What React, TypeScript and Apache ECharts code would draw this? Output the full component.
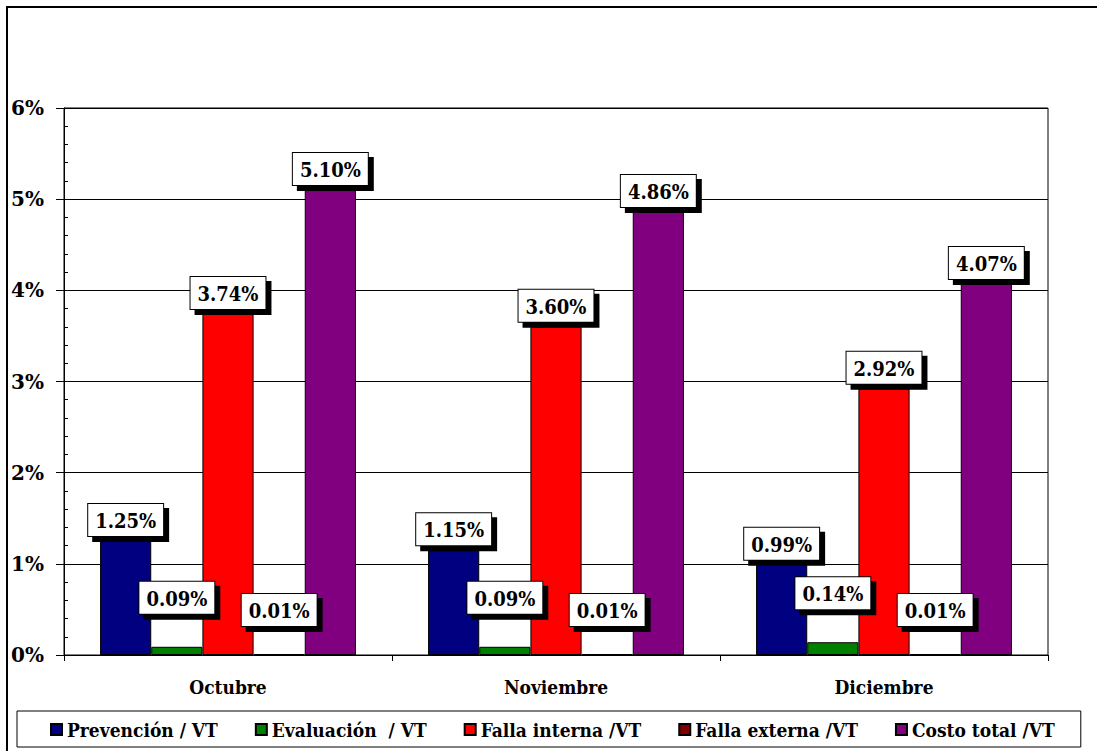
import React, { useEffect, useRef } from "react";
import * as echarts from "echarts";

const categories = ["Octubre", "Noviembre", "Diciembre"];
const seriesNames = [
  "Prevención / VT",
  "Evaluación  / VT",
  "Falla interna /VT",
  "Falla externa /VT",
  "Costo total /VT",
];
const prevencion = [1.25, 1.15, 0.99];
const evaluacion = [0.09, 0.09, 0.14];
const fallaInterna = [3.74, 3.6, 2.92];
const fallaExterna = [0.01, 0.01, 0.01];
const costoTotal = [5.1, 4.86, 4.07];
const yTicks = [0, 1, 2, 3, 4, 5, 6];

const colors = ["#000080", "#008000", "#FF0000", "#800000", "#800080"];
const labelDistances = [5, 33, 5, 28, 5];
const FONT = "DejaVu Serif Condensed";

export default function App() {
  const ref = useRef<HTMLDivElement>(null);
  useEffect(() => {
    if (!ref.current) return;
    const chart = echarts.init(ref.current, null, { renderer: "svg" });
    const allData = [prevencion, evaluacion, fallaInterna, fallaExterna, costoTotal];
    const series = allData.map((d, i) => ({
      name: seriesNames[i],
      type: "bar",
      data: d,
      barGap: "0%",
      barCategoryGap: "22%",
      itemStyle: { color: colors[i], borderColor: "#000", borderWidth: 1 },
      label: {
        show: true,
        position: "top",
        distance: labelDistances[i],
        formatter: (p: any) => p.value.toFixed(2) + "%",
        fontFamily: FONT,
        fontWeight: "bold",
        fontSize: 20,
        color: "#000",
        backgroundColor: "#fff",
        borderColor: "#000",
        borderWidth: 1,
        padding: [7, 7, 5, 7],
        shadowColor: "#000",
        shadowBlur: 1,
        shadowOffsetX: 5,
        shadowOffsetY: 5,
      },
    }));
    chart.setOption({
      animation: false,
      backgroundColor: "#fff",
      grid: {
        left: 64,
        right: 49,
        top: 108,
        bottom: 96,
        show: true,
        borderColor: "#000",
        borderWidth: 1,
      },
      legend: {
        data: seriesNames,
        left: 17,
        top: 711,
        padding: [9, 26, 8, 33],
        itemGap: 37,
        itemWidth: 11,
        itemHeight: 11,
        borderColor: "#000",
        borderWidth: 1,
        icon: "rect",
        textStyle: {
          fontFamily: FONT,
          fontWeight: "bold",
          fontSize: 19,
          color: "#000",
        },
      },
      xAxis: {
        type: "category",
        data: categories,
        axisLine: { lineStyle: { color: "#000", width: 1 } },
        axisTick: { show: true, length: 6, lineStyle: { color: "#000" } },
        axisLabel: {
          margin: 22,
          fontFamily: FONT,
          fontWeight: "bold",
          fontSize: 19,
          color: "#000",
        },
      },
      yAxis: [
        {
          type: "value",
          min: yTicks[0],
          max: yTicks[yTicks.length - 1],
          interval: 1,
          axisLine: { show: true, lineStyle: { color: "#000", width: 1 } },
          axisTick: { show: true, length: 8, lineStyle: { color: "#000" } },
          axisLabel: {
            margin: 20,
            formatter: "{value}%",
            fontFamily: "DejaVu Serif",
            fontWeight: "bold",
            fontSize: 20,
            color: "#000",
          },
          splitLine: { show: true, lineStyle: { color: "#000", width: 1 } },
        },
        {
          type: "value",
          position: "left",
          min: yTicks[0],
          max: yTicks[yTicks.length - 1],
          interval: 0.2,
          axisLine: { show: false },
          axisTick: { show: true, inside: true, length: 4, lineStyle: { color: "#000" } },
          axisLabel: { show: false },
          splitLine: { show: false },
        },
      ],
      graphic: [
        {
          type: "rect",
          shape: { x: 7, y: 7, width: 1200, height: 900 },
          style: { fill: "none", stroke: "#000", lineWidth: 2 },
          silent: true,
        },
      ],
      series,
    });
    return () => chart.dispose();
  }, []);
  return (
    <div
      ref={ref}
      style={{ position: "fixed", left: 0, top: 0, width: 1097, height: 751 }}
    />
  );
}
